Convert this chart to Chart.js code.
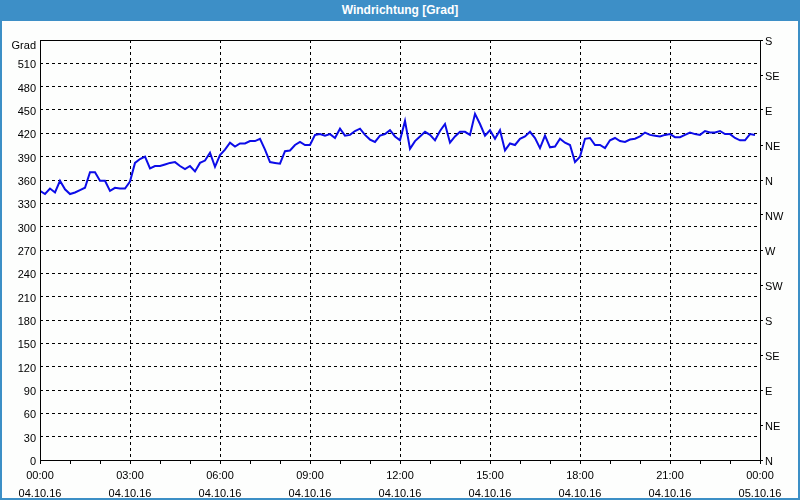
<!DOCTYPE html>
<html>
<head>
<meta charset="utf-8">
<script src="https://cdn.jsdelivr.net/npm/chart.js@4/dist/chart.umd.min.js"></script>
<style>
  html, body { margin: 0; padding: 0; background: #fff; }
  #wrap { position: relative; width: 800px; height: 500px; background: #fdfefd; }
  #frame { position: absolute; left: 0; top: 0; width: 800px; height: 500px; box-sizing: border-box; border: 2px solid #3c8fc6; }
  #title { position: absolute; left: 0; top: 0; width: 800px; height: 21px; background: #3d8fc7; color: #fff;
           font: bold 12px "Liberation Sans", sans-serif; text-align: center; line-height: 21px; }
  #chart { position: absolute; left: 0; top: 0; }
</style>
</head>
<body>
<div id="wrap">
  <div id="frame"></div>
  <div id="title">Windrichtung [Grad]</div>
  <canvas id="chart" width="800" height="500"></canvas>
</div>
<script>
// wind direction, one reading every 10 minutes from 04.10.16 00:00
const STEP_MIN = 10;
const windDir = [
  346, 342, 349, 344, 359, 348, 342, 344, 347, 350,
  370, 370, 359, 359, 346, 350, 349, 349, 358, 382,
  387, 390, 375, 378, 378, 380, 382, 383, 378, 374,
  378, 371, 382, 385, 395, 377, 392,
  399, 408, 403, 407, 407, 410, 410, 413, 399, 383,
  382, 381, 397, 398, 405, 409, 405, 405, 418, 419,
  417, 419, 414, 426, 417, 418, 423, 426, 418, 412,
  409, 417, 419, 424, 416, 411,
  436, 400, 410, 416, 422, 418, 411, 423, 432, 408,
  416, 422, 422, 418, 445, 432, 417, 424, 413, 424,
  398, 407, 405, 413, 416, 422, 414, 401, 417, 402,
  403, 413, 408, 405, 383, 390,
  413, 414, 405, 405, 401, 411, 414, 410, 409, 412,
  413, 416, 421, 418, 417, 416, 418, 419, 415, 415,
  418, 421, 419, 418, 423, 421, 421, 423, 419, 419,
  414, 411, 411, 419, 418
];

// x axis labels every 3 hours
const timeLabels = ['00:00', '03:00', '06:00', '09:00', '12:00', '15:00', '18:00', '21:00', '00:00'];
const dateLabels = ['04.10.16', '04.10.16', '04.10.16', '04.10.16', '04.10.16', '04.10.16', '04.10.16', '04.10.16', '05.10.16'];

// right axis compass names, from 0 up to 540 in 45 degree steps
const compassLabels = ['N', 'NE', 'E', 'SE', 'S', 'SW', 'W', 'NW', 'N', 'NE', 'E', 'SE', 'S'];
const yUnitLabel = 'Grad';

const points = windDir.map((v, i) => ({ x: i * STEP_MIN, y: v }));

const font = { family: '"Liberation Sans", sans-serif', size: 11 };

// solid black frame round the plot area, plus the unit label in the top left corner
const framePlugin = {
  id: 'frame',
  afterDraw(chart) {
    const a = chart.chartArea;
    const ctx = chart.ctx;
    ctx.save();
    ctx.strokeStyle = '#000';
    ctx.lineWidth = 1;
    ctx.strokeRect(a.left + 0.5, a.top + 0.5, a.right - a.left, a.bottom - a.top);
    ctx.fillStyle = '#000';
    ctx.font = '11px "Liberation Sans", sans-serif';
    ctx.textAlign = 'right';
    ctx.textBaseline = 'middle';
    ctx.fillText(yUnitLabel, a.left - 4, a.top + 6);
    ctx.restore();
  }
};

new Chart(document.getElementById('chart'), {
  type: 'line',
  data: {
    datasets: [{
      data: points,
      borderColor: '#0c0ce8',
      borderWidth: 2,
      pointRadius: 0,
      tension: 0,
      fill: false
    }]
  },
  options: {
    responsive: false,
    animation: false,
    layout: { padding: { top: 40, left: 0, right: 0, bottom: 0 } },
    plugins: { legend: { display: false }, tooltip: { enabled: false } },
    scales: {
      x: {
        type: 'linear',
        min: 0,
        max: 1440,
        afterFit(scale) { scale.height = 40; },
        ticks: {
          stepSize: 60,
          autoSkip: false,
          maxRotation: 0,
          color: '#000',
          padding: 3,
          font: { ...font, lineHeight: '18px' },
          callback(value) {
            if (value % 180 !== 0) return '';
            const i = value / 180;
            return [timeLabels[i], dateLabels[i]];
          }
        },
        grid: {
          color: ctx => (ctx.tick && ctx.tick.value % 180 === 0) ? '#000' : 'rgba(0,0,0,0)',
          tickColor: '#000',
          tickLength: 4,
          lineWidth: 1
        },
        border: { display: false, dash: [3, 3] }
      },
      y: {
        position: 'left',
        min: 0,
        max: 540,
        afterFit(scale) { scale.width = 40; },
        ticks: {
          stepSize: 30,
          color: '#000',
          padding: 4,
          labelOffset: 2,
          font: font,
          callback(value) { return value === 540 ? '' : String(value); }
        },
        grid: { color: '#000', lineWidth: 1, drawTicks: false },
        border: { display: false, dash: [3, 3] }
      },
      y2: {
        position: 'right',
        min: 0,
        max: 540,
        afterFit(scale) { scale.width = 40; },
        ticks: {
          stepSize: 45,
          color: '#000',
          padding: 2,
          labelOffset: 2,
          font: font,
          callback(value) { return compassLabels[Math.round(value / 45)]; }
        },
        grid: { drawOnChartArea: false, color: '#000', tickColor: '#000', tickLength: 3 },
        border: { display: false }
      }
    }
  },
  plugins: [framePlugin]
});
</script>
</body>
</html>
